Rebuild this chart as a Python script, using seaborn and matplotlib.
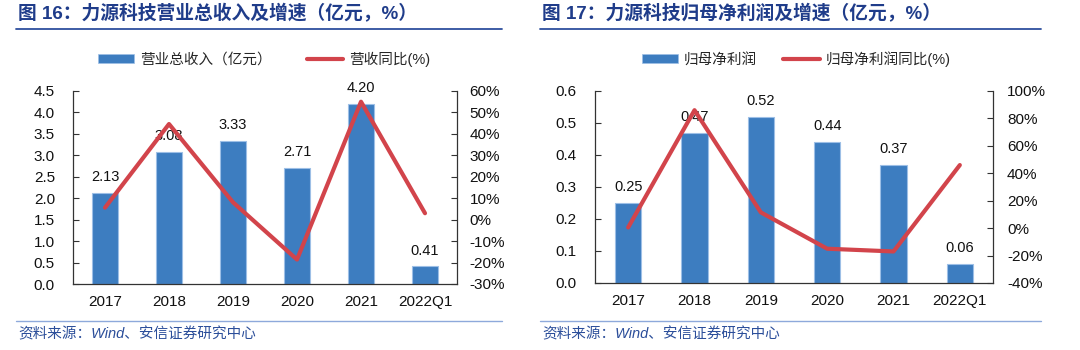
import numpy as np
import matplotlib
matplotlib.use("Agg")
import matplotlib.pyplot as plt
import seaborn as sns
from matplotlib.patches import Patch
from matplotlib.lines import Line2D
from matplotlib.ticker import FuncFormatter, MultipleLocator, FixedLocator

# ---------------- data ----------------
categories = ["2017", "2018", "2019", "2020", "2021", "2022Q1"]
revenue = [2.13, 3.08, 3.33, 2.71, 4.20, 0.41]
revenue_growth = [5.6, 44.6, 8.1, -18.6, 55.0, 3.0]
profit = [0.25, 0.47, 0.52, 0.44, 0.37, 0.06]
profit_growth = [0.5, 86.0, 11.5, -15.0, -17.0, 46.0]

title_left = "图 16：力源科技营业总收入及增速（亿元，%）"
title_right = "图 17：力源科技归母净利润及增速（亿元，%）"
legend_left = ["营业总收入（亿元）", "营收同比(%)"]
legend_right = ["归母净利润", "归母净利润同比(%)"]
source = "资料来源：Wind、安信证券研究中心"

sns.set_style("white")
plt.rcParams["font.family"] = ["Liberation Sans", "Noto Sans CJK SC", "DejaVu Sans"]

BAR = "#3D7DC0"
BAR_EDGE = "#9DBFE6"
LINE = "#D2444B"
TITLE = "#1F3C8A"
AX = "#333333"
W, H = 1080, 350

fig = plt.figure(figsize=(W / 100, H / 100), dpi=100)


def fx(px):
    return px / W


def fy(py):
    return 1 - py / H


def panel(rect, vals, growth, ylim, ystep, yfmt, y2lim, y2step, lfmt, lpad, rpad):
    ax = fig.add_axes(rect)
    x = np.arange(len(categories))
    sns.barplot(x=categories, y=vals, ax=ax, color=BAR, saturation=1,
                width=0.4, edgecolor=BAR_EDGE, linewidth=0.8)
    ax.set_xlim(-0.5, len(categories) - 0.5)
    ax.set_ylim(*ylim)
    ax.yaxis.set_major_locator(MultipleLocator(ystep))
    ax.yaxis.set_major_formatter(FuncFormatter(lambda v, p: yfmt.format(v)))
    for i, v in enumerate(vals):
        ax.annotate(lfmt.format(v), (i, v), xytext=(0, 8.5), textcoords="offset points",
                    ha="center", va="baseline", fontsize=10.5, color="#111111")
    ax2 = ax.twinx()
    sns.lineplot(x=x, y=growth, ax=ax2, color=LINE, linewidth=3.0, sort=False)
    ax2.set_ylim(*y2lim)
    ax2.yaxis.set_major_locator(MultipleLocator(y2step))
    ax2.yaxis.set_major_formatter(FuncFormatter(lambda v, p: f"{v:.0f}%"))
    ax.set_xlabel("")
    ax.set_ylabel("")
    ax2.set_ylabel("")
    ax.xaxis.set_minor_locator(FixedLocator(np.arange(0.5, len(categories) - 0.5, 1)))
    ax.tick_params(axis="x", which="major", length=0, pad=8, labelsize=11, colors="#111111")
    ax.tick_params(axis="x", which="minor", direction="in", length=3, width=0.8, color=AX)
    ax.tick_params(axis="y", direction="in", length=4, width=0.8, color=AX, pad=lpad,
                   labelsize=11, labelcolor="#111111", left=True)
    ax2.tick_params(axis="y", direction="in", length=4, width=0.8, color=AX, pad=rpad,
                    labelsize=11, labelcolor="#111111", right=True)
    for a in (ax, ax2):
        a.spines["top"].set_visible(False)
        for s in a.spines.values():
            s.set_color(AX)
            s.set_linewidth(0.9)
    ax.spines["right"].set_visible(False)
    ax2.spines["left"].set_visible(False)
    ax2.spines["bottom"].set_visible(False)
    return ax, ax2


panel([fx(73), fy(284), fx(457) - fx(73), fy(91) - fy(284)], revenue, revenue_growth,
      (0, 4.5), 0.5, "{:.1f}", (-30, 60), 10, "{:.2f}", 13, 9)
panel([fx(595), fy(283), fx(993) - fx(595), fy(91) - fy(283)], profit, profit_growth,
      (0, 0.6), 0.1, "{:.1f}", (-40, 100), 20, "{:.2f}", 13, 10)

# titles and rules
for x0, x1, title in [(16, 502, title_left), (540, 1041, title_right)]:
    fig.text(fx(x0 + 2), fy(14), title, fontsize=13.5, fontweight="bold", color=TITLE,
             ha="left", va="center")
    fig.add_artist(Line2D([fx(x0), fx(x1)], [fy(29), fy(29)], color="#2E4F9E", lw=1.3))
    fig.add_artist(Line2D([fx(x0), fx(x1)], [fy(321), fy(321)], color="#8EA9DB", lw=1.0))
    fig.text(fx(x0 + 2), fy(334), source, fontsize=10.5, color="#2B4E9A", style="italic",
             ha="left", va="center")

# legends
for cx, labels, cs in [(264, legend_left, 2.4), (796, legend_right, 1.8)]:
    handles = [Patch(facecolor=BAR, edgecolor=BAR_EDGE, linewidth=0.5),
               Line2D([0], [0], color=LINE, lw=3.0)]
    fig.legend(handles, labels, loc="center", bbox_to_anchor=(fx(cx), fy(59)), ncol=2,
               frameon=False, fontsize=10.5, handlelength=2.5, handleheight=0.6,
               handletextpad=0.4, columnspacing=cs)

fig.savefig("out.png", dpi=100)
